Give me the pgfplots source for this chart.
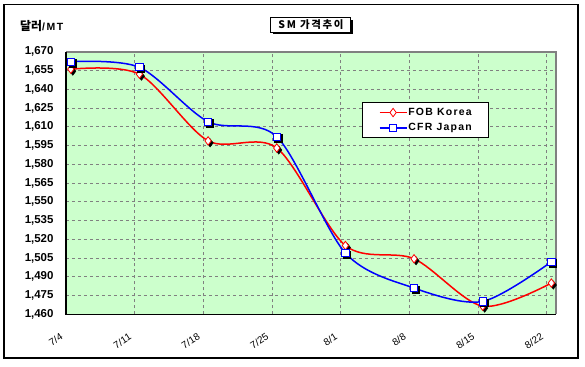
\documentclass[border=0pt]{standalone}
\usepackage{pgfplots}
\pgfplotsset{compat=1.18}
\usepackage{fontspec}
\setmainfont{Liberation Sans}
\newfontfamily\cjk{Noto Sans CJK KR}
\definecolor{plotbg}{HTML}{CCFFCC}
\definecolor{gridgray}{HTML}{808080}
\definecolor{xlred}{HTML}{FF0000}
\definecolor{xlblue}{HTML}{0000FF}
\begin{document}
\begin{tikzpicture}[x=1bp,y=1bp]
\useasboundingbox (0,0) rectangle (585,366);
\fill[white] (0,0) rectangle (585,366);
\draw[black, line width=1.3bp] (4,8) rectangle (578,361.5);
% title box with shadow
\fill[black] (272.7,331.7) rectangle (352.7,346.3);
\draw[black, fill=white, line width=0.9bp] (270.7,333.7) rectangle (350.7,348.3);
\node[font=\cjk\bfseries\fontsize{10.5}{12}\selectfont\addfontfeature{LetterSpace=16}] at (311,341) {SM 가격추이};
% y label
\node[anchor=west, inner sep=0pt] at (20,340) {{\cjk\bfseries\fontsize{12}{14}\selectfont 달러}{\bfseries\fontsize{10.5}{12}\selectfont\addfontfeature{LetterSpace=15}/MT}};
\begin{axis}[
  at={(66bp,51.7bp)}, anchor=south west,
  scale only axis, width=489.8bp, height=262.6bp,
  xmin=0, xmax=7.135, ymin=1460, ymax=1670,
  axis background/.style={fill=plotbg},
  axis line style={draw=none},
  xtick={0,1,2,3,4,5,6,7},
  xticklabels={7/4,7/11,7/18,7/25,8/1,8/8,8/15,8/22},
  ytick={1460,1475,...,1670},
  major tick length=0pt,
  grid=major,
  major grid style={gridgray, dashed, line width=0.7bp},
  /pgf/number format/assume math mode=true,
  /pgf/number format/1000 sep={,},
  yticklabel style={font=\bfseries\fontsize{11.5}{13}\selectfont, xshift=-9bp},
  xticklabel style={font=\fontsize{10}{12}\selectfont, inner sep=1bp, xshift=-3.5bp, yshift=-21bp, rotate=33, anchor=east},
  legend style={at={(0.605,0.808)}, anchor=north west, draw=black, line width=1bp, fill=white,
     font=\bfseries\fontsize{10.5}{12}\selectfont\addfontfeature{LetterSpace=12},
     row sep=3.5bp, inner xsep=16bp, inner ysep=4bp,
     nodes={inner xsep=1bp, inner ysep=1.5bp}},
  legend image code/.code={\draw[mark repeat=2,mark phase=2] plot coordinates {(0bp,0bp) (13.5bp,0bp) (27bp,0bp)};},
  legend cell align=left,
  clip=false,
]
% plot area frame
\draw[gridgray, line width=2bp] (rel axis cs:0,1) -- (rel axis cs:1,1) -- (rel axis cs:1,0);
\draw[black, line width=1.5bp] (rel axis cs:0,1) -- (rel axis cs:0,0) -- (rel axis cs:1,0);
% FOB Korea
\addplot[xlred, line width=1.5bp, smooth, tension=0.5, no marks, forget plot] coordinates {
 (0.07,1656) (1.07,1652) (2.07,1598.7) (3.07,1593) (4.07,1515) (5.07,1504.4) (6.07,1466.5) (7.07,1485)};
\addplot[only marks, mark=diamond*, mark size=4.2bp, black, mark options={xshift=2bp, yshift=-2bp}, forget plot] coordinates {
 (0.07,1656) (1.07,1652) (2.07,1598.7) (3.07,1593) (4.07,1515) (5.07,1504.4) (6.07,1466.5) (7.07,1485)};
\addplot[only marks, mark=diamond*, mark size=4.2bp, xlred, mark options={fill=white, line width=0.8bp}, forget plot] coordinates {
 (0.07,1656) (1.07,1652) (2.07,1598.7) (3.07,1593) (4.07,1515) (5.07,1504.4) (6.07,1466.5) (7.07,1485)};
% CFR Japan
\addplot[xlblue, line width=1.5bp, smooth, tension=0.5, no marks, forget plot] coordinates {
 (0.07,1662) (1.07,1657.5) (2.07,1614) (3.07,1602) (4.07,1509) (5.07,1481) (6.07,1470.3) (7.07,1502)};
\addplot[only marks, mark=square*, mark size=3.6bp, black, mark options={xshift=1.5bp, yshift=-1.5bp}, forget plot] coordinates {
 (0.07,1662) (1.07,1657.5) (2.07,1614) (3.07,1602) (4.07,1509) (5.07,1481) (6.07,1470.3) (7.07,1502)};
\addplot[only marks, mark=square*, mark size=3.6bp, xlblue, mark options={fill=white, line width=0.9bp}, forget plot] coordinates {
 (0.07,1662) (1.07,1657.5) (2.07,1614) (3.07,1602) (4.07,1509) (5.07,1481) (6.07,1470.3) (7.07,1502)};
\addlegendimage{xlred, line width=1.5bp, mark=diamond*, mark size=4.2bp, mark options={fill=white, line width=0.8bp}}
\addlegendentry{FOB Korea}
\addlegendimage{xlblue, line width=1.5bp, mark=square*, mark size=3.6bp, mark options={fill=white, line width=0.9bp}}
\addlegendentry{CFR Japan}
\end{axis}
\end{tikzpicture}
\end{document}
